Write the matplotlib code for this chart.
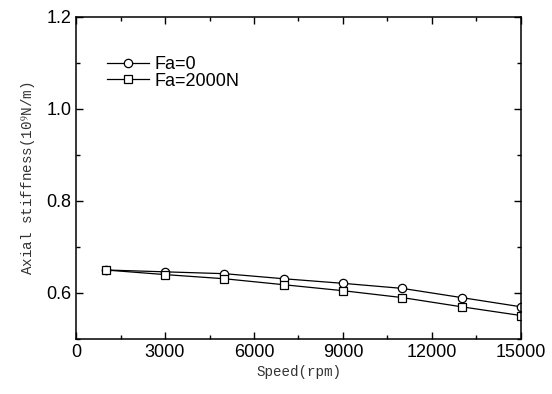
import matplotlib
matplotlib.use("Agg")
import matplotlib.pyplot as plt
from matplotlib.ticker import MultipleLocator

speed = [1000, 3000, 5000, 7000, 9000, 11000, 13000, 15000]
fa0 = [0.650, 0.646, 0.642, 0.631, 0.621, 0.610, 0.590, 0.570]
fa2000 = [0.650, 0.640, 0.631, 0.618, 0.605, 0.590, 0.570, 0.551]
labels = ["Fa=0", "Fa=2000N"]

plt.rcParams['font.family'] = ['Liberation Sans', 'DejaVu Sans']
plt.rcParams['mathtext.fontset'] = 'stix'

fig = plt.figure(figsize=(5.52, 3.94), dpi=100)
ax = fig.add_axes([0.1377, 0.1396, 0.8061, 0.8173])

ax.plot(speed, fa0, color='black', lw=0.9, marker='o', ms=6, mfc='white', mec='black', mew=0.9, label=labels[0])
ax.plot(speed, fa2000, color='black', lw=0.9, marker='s', ms=5.5, mfc='white', mec='black', mew=0.9, label=labels[1])

ax.set_xlim(0, 15000)
ax.set_ylim(0.5, 1.2)
ax.xaxis.set_major_locator(MultipleLocator(3000))
ax.xaxis.set_minor_locator(MultipleLocator(1500))
ax.yaxis.set_major_locator(MultipleLocator(0.2))
ax.yaxis.set_minor_locator(MultipleLocator(0.1))
ax.set_yticks([0.6, 0.8, 1.0, 1.2])
ax.set_yticklabels(["0.6", "0.8", "1.0", "1.2"])
ax.tick_params(which='both', direction='in', top=True, right=True, labelsize=13, width=1)
ax.tick_params(which='major', length=5)
ax.tick_params(which='minor', length=3)
for s in ax.spines.values():
    s.set_linewidth(1.1)

ax.set_xlabel("Speed(rpm)", family=['Liberation Mono', 'DejaVu Sans Mono'], fontsize=10.3, labelpad=3, color='#333333')
ax.set_ylabel("Axial stiffness(10$^9$N/m)", family=['Liberation Mono', 'DejaVu Sans Mono'], fontsize=10.3, labelpad=6, color='#333333')

leg = ax.legend(loc='upper left', bbox_to_anchor=(0.054, 0.90), frameon=False, fontsize=13,
                handlelength=2.3, handletextpad=0.3, labelspacing=-0.05, borderaxespad=0)

fig.savefig("out.png", dpi=100)
